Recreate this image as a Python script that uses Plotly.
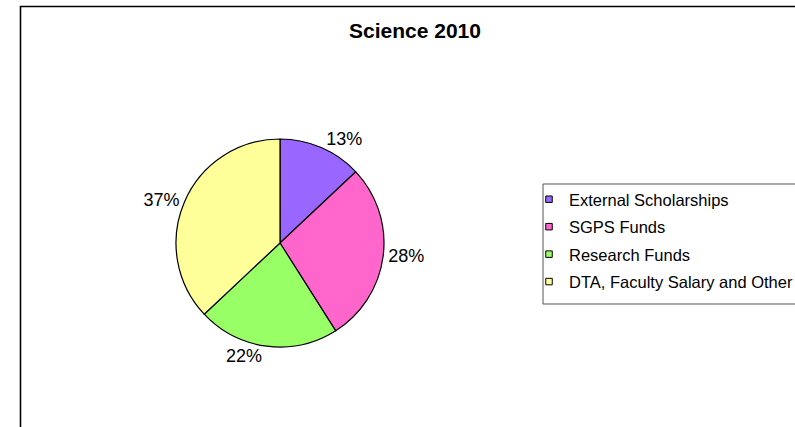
import plotly.graph_objects as go

categories = ["External Scholarships", "SGPS Funds", "Research Funds", "DTA, Faculty Salary and Other"]
values = [13, 28, 22, 37]
colors = ["#9966FF", "#FF66CC", "#99FF66", "#FFFF99"]
title_text = "Science 2010"

W, H = 795, 427
FONT = "Liberation Sans, Arial, sans-serif"

cx, cy, r = 280, 243, 104

fig = go.Figure()
fig.add_trace(go.Pie(
    labels=categories,
    values=values,
    sort=False,
    direction="clockwise",
    rotation=0,
    showlegend=False,
    marker=dict(colors=colors, line=dict(color="#000000", width=1.2)),
    texttemplate="%{percent:.0%}",
    textposition="outside",
    textfont=dict(family=FONT, size=18, color="#000000"),
    hoverinfo="label+percent",
    domain=dict(x=[(cx - r) / W, (cx + r) / W], y=[1 - (cy + r) / H, 1 - (cy - r) / H]),
))

# legend entries (one per category, same colours as the slices)
for cat, col in zip(categories, colors):
    fig.add_trace(go.Scatter(
        x=[None], y=[None], mode="markers", name=cat, legendgroup=cat,
        marker=dict(symbol="square", size=6.5, color=col, line=dict(color="#000000", width=1)),
        hoverinfo="skip",
    ))

fig.update_layout(
    width=W, height=H,
    margin=dict(l=0, r=0, t=0, b=0, autoexpand=False),
    paper_bgcolor="#FFFFFF",
    plot_bgcolor="#FFFFFF",
    font=dict(family=FONT, size=17, color="#000000"),
    xaxis=dict(visible=False),
    yaxis=dict(visible=False),
    title=dict(text=title_text, x=415 / W, xanchor="center", y=1 - 31 / H, yanchor="middle",
               font=dict(family=FONT, size=21, color="#000000", weight="bold")),
    legend=dict(x=529 / W, xanchor="left", y=1 - 182 / H, yanchor="top",
                borderwidth=0, bgcolor="rgba(0,0,0,0)", tracegroupgap=3,
                traceorder="grouped", itemsizing="trace",
                font=dict(family=FONT, size=16.5, color="#000000")),
    shapes=[
        dict(type="rect", xref="paper", yref="paper",
             x0=20.5 / W, x1=1.05, y0=-0.05, y1=1 - 6.5 / H,
             line=dict(color="#000000", width=1.6), layer="below"),
        dict(type="rect", xref="paper", yref="paper",
             x0=543 / W, x1=1.05, y0=1 - 304 / H, y1=1 - 184 / H,
             line=dict(color="#555555", width=1), layer="below"),
    ],
)

fig.write_html(
    "out.html",
    config={"displayModeBar": False},
    post_script="document.documentElement.style.margin='0';document.documentElement.style.overflow='hidden';"
                "document.body.style.margin='0';document.body.style.overflow='hidden';",
)
